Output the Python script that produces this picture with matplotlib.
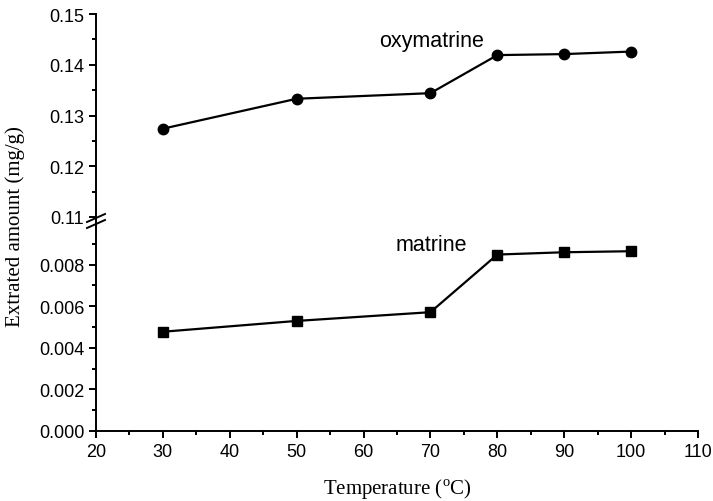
import numpy as np
import matplotlib
matplotlib.use('Agg')
import matplotlib.pyplot as plt
from matplotlib.lines import Line2D

plt.rcParams['font.family'] = 'Liberation Sans'
plt.rcParams['mathtext.fontset'] = 'custom'
plt.rcParams['mathtext.rm'] = 'Liberation Serif'

temp = [30, 50, 70, 80, 90, 100]
oxymatrine = [0.1274, 0.1333, 0.1344, 0.1419, 0.1421, 0.1426]
matrine = [0.00477, 0.00529, 0.00571, 0.00848, 0.00859, 0.00864]

fig = plt.figure(figsize=(7.13, 5.02), dpi=100)
left, right = 96/713, 698/713
ax_top = fig.add_axes([left, 1-218/502, right-left, (218-15)/502])
ax_bot = fig.add_axes([left, 1-432/502, right-left, (432-226)/502])

ax_top.plot(temp, oxymatrine, '-o', color='black', lw=1.6, ms=7.5)
ax_bot.plot(temp, matrine, '-s', color='black', lw=1.6, ms=6.5)

for ax in (ax_top, ax_bot):
    ax.set_xlim(20, 110)
    ax.spines['top'].set_visible(False)
    ax.spines['right'].set_visible(False)
    ax.spines['left'].set_linewidth(1.4)
    ax.spines['bottom'].set_linewidth(1.4)
    ax.tick_params(which='major', direction='out', length=5, width=1.4, labelsize=13)
    ax.tick_params(which='minor', direction='out', length=3, width=1.4)
    ax.set_xticks(np.arange(20, 111, 10))
    ax.set_xticks(np.arange(25, 110, 10), minor=True)

ax_top.set_ylim(0.11, 0.15)
ax_top.set_yticks([0.11, 0.12, 0.13, 0.14, 0.15])
ax_top.set_yticklabels(['0.11', '0.12', '0.13', '0.14', '0.15'])
ax_top.set_yticks(np.arange(0.115, 0.15, 0.01), minor=True)
ax_top.spines['bottom'].set_visible(False)
ax_top.tick_params(axis='x', which='both', bottom=False, labelbottom=False)

ax_bot.set_ylim(0, 0.0099)
ax_bot.set_yticks(np.arange(0, 0.0081, 0.002))
ax_bot.set_yticklabels(['0.000', '0.002', '0.004', '0.006', '0.008'])
ax_bot.set_yticks(np.arange(0.001, 0.0095, 0.002), minor=True)

ax_top.text(70.2, 0.1447, 'oxymatrine', ha='center', va='center', fontsize=15.5)
ax_bot.text(70.1, 0.00898, 'matrine', ha='center', va='center', fontsize=15.5)

fig.text((96+602/2)/713, 1-490/502, 'Temperature ($^{\\mathrm{o}}$C)', ha='center', va='center',
         family='Liberation Serif', fontsize=15)
fig.text(15/713, 1-227/502, 'Extrated amount (mg/g)', rotation=90, ha='center', va='center',
         family='Liberation Serif', fontsize=15)

# axis break
x0 = left
fig.add_artist(Line2D([x0, x0], [1-226/502, 1-218/502], color='black', lw=1.4))
for dy in (-3, 3):
    yc = 1-(222+dy)/502
    fig.add_artist(Line2D([x0-9/713, x0+9/713], [yc-4/502, yc+4/502], color='black', lw=1.4))

fig.savefig('out.png', dpi=100)
